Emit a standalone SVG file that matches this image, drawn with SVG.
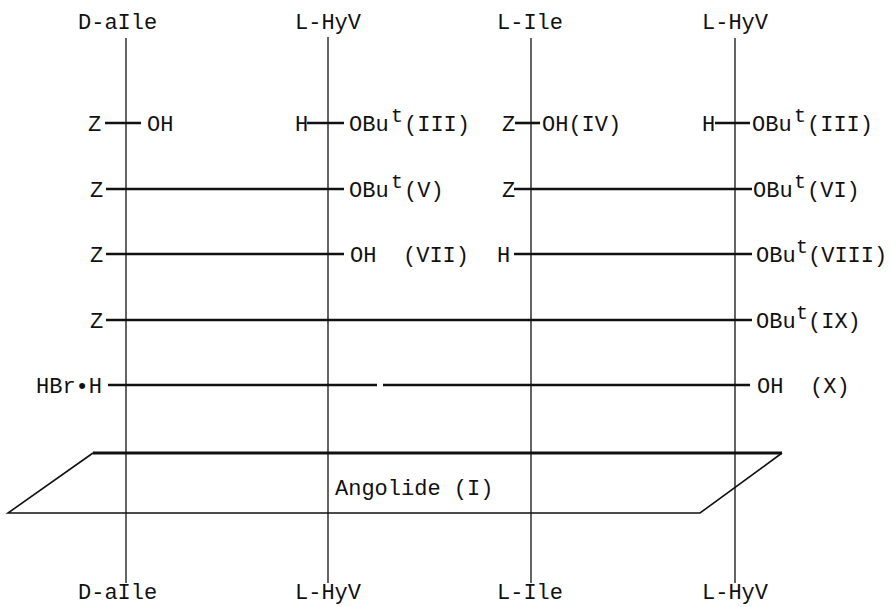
<svg xmlns="http://www.w3.org/2000/svg" width="891" height="607" viewBox="0 0 891 607">
<style>
text{font-family:"Liberation Mono","Courier New",monospace;font-size:22px;fill:#111;}
.sup{font-size:20px;}
.v{stroke:#111;stroke-width:1.3;fill:none;}
.h{stroke:#111;stroke-width:2.6;fill:none;}
.thin{stroke:#111;stroke-width:1.6;fill:none;}
</style>
<rect width="891" height="607" fill="#fff"/>
<g id="connectors">
  <line class="v" x1="126" y1="38" x2="126" y2="583"/>
  <line class="v" x1="328" y1="37" x2="328" y2="583"/>
  <line class="v" x1="531" y1="38" x2="531" y2="583"/>
  <line class="v" x1="735" y1="38" x2="735" y2="583"/>
  <line class="h" x1="105" y1="123" x2="141" y2="123"/>
  <line class="h" x1="307" y1="123" x2="344" y2="123"/>
  <line class="h" x1="515" y1="123" x2="540" y2="123"/>
  <line class="h" x1="715" y1="123" x2="750" y2="123"/>
  <line class="h" x1="106" y1="189" x2="344" y2="189"/>
  <line class="h" x1="514" y1="189" x2="752" y2="189"/>
  <line class="h" x1="106" y1="254" x2="344" y2="254"/>
  <line class="h" x1="514" y1="254" x2="752" y2="254"/>
  <line class="h" x1="106" y1="320" x2="752" y2="320"/>
  <line class="h" x1="108" y1="385" x2="377" y2="385"/>
  <line class="h" x1="383" y1="385" x2="750" y2="385"/>
</g>
<g id="col-daile">
  <text x="78" y="29">D-aIle</text>
  <text x="78" y="599">D-aIle</text>
</g>
<g id="col-lhyv1">
  <text x="295" y="29">L-HyV</text>
  <text x="295" y="599">L-HyV</text>
</g>
<g id="col-lile">
  <text x="497" y="29">L-Ile</text>
  <text x="497" y="599">L-Ile</text>
</g>
<g id="col-lhyv2">
  <text x="702" y="29">L-HyV</text>
  <text x="702" y="599">L-HyV</text>
</g>
<g id="row1">
  <text x="88" y="131">Z</text><text x="147" y="131">OH</text>
  <text x="295" y="131">H</text><text x="349" y="131">OBu</text><text class="sup" x="391" y="122">t</text><text x="404" y="131">(III)</text>
  <text x="502" y="131">Z</text><text x="542" y="131">OH(IV)</text>
  <text x="702" y="131">H</text><text x="752" y="131">OBu</text><text class="sup" x="794" y="122">t</text><text x="807" y="131">(III)</text>
</g>
<g id="row2">
  <text x="90" y="197">Z</text><text x="349" y="197">OBu</text><text class="sup" x="391" y="188">t</text><text x="404" y="197">(V)</text>
  <text x="502" y="197">Z</text><text x="753" y="197">OBu</text><text class="sup" x="794" y="188">t</text><text x="807" y="197">(VI)</text>
</g>
<g id="row3">
  <text x="90" y="262">Z</text><text x="350" y="262">OH</text><text x="403" y="262">(VII)</text>
  <text x="497" y="262">H</text><text x="756" y="262">OBu</text><text class="sup" x="796" y="253">t</text><text x="808" y="262">(VIII)</text>
</g>
<g id="row4">
  <text x="90" y="328">Z</text><text x="756" y="328">OBu</text><text class="sup" x="796" y="319">t</text><text x="808" y="328">(IX)</text>
</g>
<g id="row5">
  <text x="36" y="393">HBr•H</text><text x="757" y="393">OH</text><text x="810" y="393">(X)</text>
</g>
<g id="angolide">
  <line x1="93" y1="453" x2="782" y2="453" stroke="#111" stroke-width="3"/>
  <polyline class="thin" points="93,453 8,513 700,513 782,453"/>
  <text x="335" y="495">Angolide (I)</text>
</g>
</svg>
